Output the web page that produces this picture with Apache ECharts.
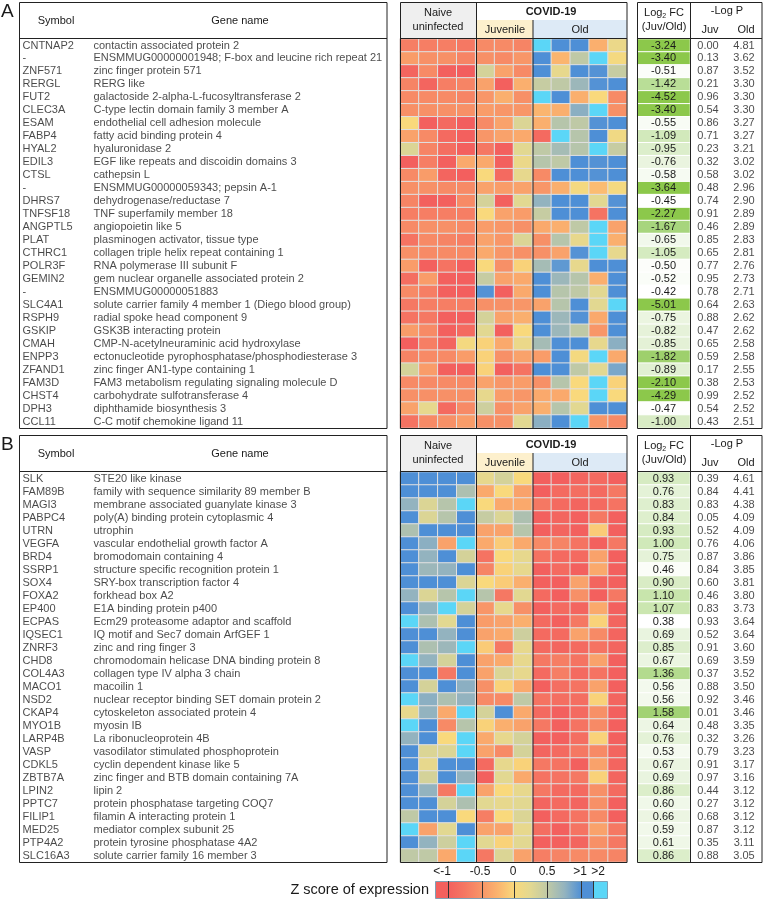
<!DOCTYPE html>
<html><head><meta charset="utf-8">
<script src="https://cdn.jsdelivr.net/npm/echarts@6/dist/echarts.min.js"></script>
<style>html,body{margin:0;padding:0;background:#fff}#c{width:765px;height:900px}</style>
</head><body><div id="c"></div>
<script>
// ---------- DATA ----------
const symbolsA = ['CNTNAP2','-','ZNF571','RERGL','FUT2','CLEC3A','ESAM','FABP4','HYAL2','EDIL3','CTSL','-','DHRS7','TNFSF18','ANGPTL5','PLAT','CTHRC1','POLR3F','GEMIN2','-','SLC4A1','RSPH9','GSKIP','CMAH','ENPP3','ZFAND1','FAM3D','CHST4','DPH3','CCL11'];
const genesA = ['contactin associated protein 2','ENSMMUG00000001948; F-box and leucine rich repeat 21','zinc finger protein 571','RERG like','galactoside 2-alpha-L-fucosyltransferase 2','C-type lectin domain family 3 member A','endothelial cell adhesion molecule','fatty acid binding protein 4','hyaluronidase 2','EGF like repeats and discoidin domains 3','cathepsin L','ENSMMUG00000059343; pepsin A-1','dehydrogenase/reductase 7','TNF superfamily member 18','angiopoietin like 5','plasminogen activator, tissue type','collagen triple helix repeat containing 1','RNA polymerase III subunit F','gem nuclear organelle associated protein 2','ENSMMUG00000051883','solute carrier family 4 member 1 (Diego blood group)','radial spoke head component 9','GSK3B interacting protein','CMP-N-acetylneuraminic acid hydroxylase','ectonucleotide pyrophosphatase/phosphodiesterase 3','zinc finger AN1-type containing 1','FAM3 metabolism regulating signaling molecule D','carbohydrate sulfotransferase 4','diphthamide biosynthesis 3','C-C motif chemokine ligand 11'];
const fcA = [-3.24,-3.40,-0.51,-1.42,-4.52,-3.40,-0.55,-1.09,-0.95,-0.76,-0.58,-3.64,-0.45,-2.27,-1.67,-0.65,-1.05,-0.50,-0.52,-0.42,-5.01,-0.75,-0.82,-0.85,-1.82,-0.89,-2.10,-4.29,-0.47,-1.00];
const pJuvA = [0.00,0.13,0.87,0.21,0.96,0.54,0.86,0.71,0.23,0.32,0.58,0.48,0.74,0.91,0.46,0.85,0.65,0.77,0.95,0.78,0.64,0.88,0.47,0.65,0.59,0.17,0.38,0.99,0.54,0.43];
const pOldA = [4.81,3.62,3.52,3.30,3.30,3.30,3.27,3.27,3.21,3.02,3.02,2.96,2.90,2.89,2.89,2.83,2.81,2.76,2.73,2.71,2.63,2.62,2.62,2.58,2.58,2.55,2.53,2.52,2.52,2.51];
// z scores: 4 naive, 3 juvenile, 5 old
const zA = [
[-0.7,-0.7,-0.7,-0.75,-0.6,-0.6,-0.65,2.3,1.3,1.3,-0.3,0.15],
[-0.45,-0.55,-0.55,-0.65,-0.55,-0.6,-0.5,1.3,-0.25,0.5,2.3,0.05],
[-0.95,-0.6,-1.0,-1.1,0.35,-0.4,-0.6,1.3,0.2,1.3,1.2,0.45],
[-0.65,-0.95,-0.7,-0.65,-0.4,-1.0,-0.3,0.45,0.5,0.7,1.2,1.3],
[-0.6,-0.6,-0.6,-0.65,-0.5,-0.3,-0.55,2.3,1.3,-0.3,0.0,-0.6],
[-0.55,-0.55,-0.55,-0.55,-0.45,-0.5,-0.5,-0.25,-0.3,0.8,2.3,-0.55],
[0.0,-1.0,-0.9,-1.1,-0.6,-0.4,0.3,-0.3,0.55,0.5,1.2,1.3],
[-0.4,-0.6,-0.9,-1.0,-0.5,-0.4,-0.35,-0.9,2.3,0.55,1.3,0.1],
[0.3,-0.65,-0.85,-1.0,-0.75,-1.0,0.25,0.5,0.65,0.55,2.3,0.45],
[-1.0,-0.7,-1.0,-0.35,-0.35,-1.0,0.15,0.55,0.5,1.3,1.2,1.3],
[-0.6,-0.45,-0.95,-1.05,0.0,-0.9,0.2,-0.6,1.3,1.3,1.2,1.25],
[-0.55,-0.55,-0.6,-0.6,-0.4,-0.45,-0.4,-0.5,-0.3,0.05,-0.2,0.05],
[-0.65,-1.0,-1.0,-0.6,0.35,-1.0,0.25,0.75,1.3,1.3,0.25,1.2],
[-0.7,-0.7,-0.7,-0.7,0.0,-0.4,-0.45,0.45,1.3,1.3,-0.8,1.3],
[-0.6,-0.55,-0.55,-0.6,-0.45,-0.5,-0.55,-0.35,-0.3,0.5,2.3,-0.4],
[-0.8,-0.6,-0.65,-0.7,-0.4,-0.5,0.3,-0.55,0.55,0.2,2.3,-0.3],
[-0.55,-0.6,-0.6,-0.6,-0.35,-0.5,-0.55,-0.55,-0.4,1.2,2.3,0.2],
[-0.45,-1.0,-0.8,-1.0,0.0,-0.55,-0.05,0.65,1.1,0.2,1.3,1.3],
[-0.85,-0.45,-1.0,-1.05,0.45,-0.4,-0.35,1.3,0.7,0.55,-0.3,1.3],
[-0.6,-0.7,-1.0,-1.05,1.2,-1.0,-0.35,1.3,0.55,0.5,0.25,1.3],
[-0.75,-0.7,-0.7,-0.7,-0.55,-0.55,-0.5,-0.4,0.55,1.25,0.25,2.3],
[-0.8,-0.75,-1.0,-1.05,0.35,-0.4,-0.3,1.3,0.7,1.2,-0.35,1.25],
[-0.45,-0.6,-1.0,-0.9,0.25,-1.0,0.0,1.3,0.7,0.5,-0.5,1.25],
[-1.05,-0.7,-0.95,0.05,-0.05,-0.35,0.15,0.65,1.25,1.3,0.2,0.8],
[-0.65,-0.6,-0.6,-0.45,-0.05,-0.55,-0.4,-0.45,1.3,0.05,2.3,-0.35],
[0.35,-0.45,-1.0,-1.0,-0.05,-1.0,-0.8,1.3,1.3,0.5,0.25,0.9],
[-0.6,-0.6,-0.6,-0.6,-0.4,-0.5,-0.45,-0.55,0.55,0.0,2.3,-0.05],
[-0.55,-0.55,-0.55,-0.55,0.2,-0.45,-0.5,-0.35,-0.35,0.0,2.3,0.0],
[-0.4,0.2,-0.9,-0.6,0.4,-0.55,-0.4,-0.3,0.55,0.25,1.3,1.25],
[-0.8,-0.6,-0.55,-0.45,-0.55,-0.55,0.25,0.8,1.3,2.3,-0.5,-0.6]
];

const symbolsB = ['SLK','FAM89B','MAGI3','PABPC4','UTRN','VEGFA','BRD4','SSRP1','SOX4','FOXA2','EP400','ECPAS','IQSEC1','ZNRF3','CHD8','COL4A3','MACO1','NSD2','CKAP4','MYO1B','LARP4B','VASP','CDKL5','ZBTB7A','LPIN2','PPTC7','FILIP1','MED25','PTP4A2','SLC16A3'];
const genesB = ['STE20 like kinase','family with sequence similarity 89 member B','membrane associated guanylate kinase 3','poly(A) binding protein cytoplasmic 4','utrophin','vascular endothelial growth factor A','bromodomain containing 4','structure specific recognition protein 1','SRY-box transcription factor 4','forkhead box A2','E1A binding protein p400','Ecm29 proteasome adaptor and scaffold','IQ motif and Sec7 domain ArfGEF 1','zinc and ring finger 3','chromodomain helicase DNA binding protein 8','collagen type IV alpha 3 chain','macoilin 1','nuclear receptor binding SET domain protein 2','cytoskeleton associated protein 4','myosin IB','La ribonucleoprotein 4B','vasodilator stimulated phosphoprotein','cyclin dependent kinase like 5','zinc finger and BTB domain containing 7A','lipin 2','protein phosphatase targeting COQ7','filamin A interacting protein 1','mediator complex subunit 25','protein tyrosine phosphatase 4A2','solute carrier family 16 member 3'];
const fcB = [0.93,0.76,0.83,0.84,0.93,1.00,0.75,0.46,0.90,1.10,1.07,0.38,0.69,0.85,0.67,1.36,0.56,0.56,1.58,0.64,0.76,0.53,0.67,0.69,0.86,0.60,0.66,0.59,0.61,0.86];
const pJuvB = [0.39,0.84,0.83,0.05,0.52,0.76,0.87,0.84,0.60,0.46,0.83,0.93,0.52,0.91,0.69,0.37,0.88,0.92,0.01,0.48,0.32,0.79,0.91,0.97,0.44,0.27,0.68,0.87,0.35,0.88];
const pOldB = [4.61,4.41,4.38,4.09,4.09,4.06,3.86,3.85,3.81,3.80,3.73,3.64,3.64,3.60,3.59,3.52,3.50,3.46,3.46,3.35,3.26,3.23,3.17,3.16,3.12,3.12,3.12,3.12,3.11,3.05];
const zB = [
[1.3,1.3,1.3,1.3,0.2,0.35,0.0,-1.0,-1.05,-0.95,-0.9,-1.0],
[1.3,1.3,1.3,0.6,-0.35,0.0,-0.4,-1.05,-0.9,-0.85,-0.9,-0.75],
[0.75,0.3,0.55,2.3,0.0,-0.35,-0.35,-0.75,-0.9,-0.95,-0.9,-0.8],
[1.3,0.3,0.55,1.3,0.45,0.3,0.6,-1.0,-0.95,-1.0,-0.75,-1.0],
[0.6,1.3,1.3,1.3,-0.4,-0.4,0.55,-1.0,-0.95,-1.0,-0.1,-1.0],
[1.3,0.8,-0.4,2.3,-0.35,-0.1,-0.35,-0.6,-0.65,-0.8,-1.0,-0.75],
[1.3,0.75,1.3,0.35,-0.8,0.0,0.2,-0.8,-0.9,-0.9,-0.4,-1.0],
[1.3,0.7,0.75,1.3,-0.65,-0.05,0.2,-1.0,-0.9,-1.0,-0.35,-1.0],
[1.3,1.3,1.3,0.3,0.0,-0.1,-0.3,-1.0,-1.05,-0.4,-0.95,-1.0],
[0.75,0.3,0.55,2.3,0.55,-0.75,0.25,-0.9,-1.05,-0.55,-1.0,-0.75],
[1.3,0.75,2.3,0.35,-0.5,0.2,-0.55,-1.0,-0.9,-0.95,-0.35,-1.0],
[2.3,0.6,0.25,1.3,-0.45,-0.4,-0.3,-0.9,-1.0,-0.75,-0.05,-0.95],
[1.3,1.3,0.75,1.3,-0.4,-0.35,0.4,-0.9,-0.9,-0.4,-0.6,-0.95],
[1.3,0.6,0.7,2.3,-0.1,-0.75,0.2,-0.9,-0.95,-0.9,-0.8,-0.95],
[2.3,0.75,0.35,1.3,-0.4,-0.35,0.2,-0.75,-0.7,-0.8,-0.4,-1.0],
[1.3,1.3,-0.75,1.3,-0.4,0.3,0.2,-0.9,-0.7,-0.9,-0.8,-1.0],
[1.3,0.35,1.3,0.8,-0.55,-0.05,-0.35,-1.0,-0.85,-0.8,-0.4,-1.0],
[2.3,0.8,0.6,0.75,-0.6,-0.6,0.5,-0.8,-0.85,-0.85,-0.05,-0.95],
[0.2,0.75,-0.35,2.3,0.35,1.3,-0.35,-0.9,-1.0,-0.9,-0.55,-1.0],
[2.3,1.3,-0.6,0.55,-0.05,-0.3,-0.4,-0.75,-1.0,-0.8,-0.6,-1.0],
[0.75,1.3,0.0,2.3,-0.35,0.2,0.35,-1.0,-1.0,-0.85,-0.05,-1.0],
[1.3,0.3,0.3,2.3,-0.4,-0.6,0.35,-0.95,-0.9,-0.75,-0.6,-0.95],
[1.3,0.2,1.3,1.3,-0.9,0.2,-0.05,-0.75,-0.8,-1.0,-0.4,-0.95],
[1.3,0.35,1.3,0.75,-1.0,0.25,-0.35,-0.8,-0.8,-0.75,-0.05,-0.95],
[1.3,0.75,-0.75,2.3,-0.4,0.0,0.2,-0.75,-0.9,-0.9,-0.55,-0.9],
[1.3,1.3,0.35,0.6,0.25,0.2,0.25,-0.95,-0.9,-0.95,-0.55,-1.0],
[0.5,1.3,1.3,0.0,-0.7,0.0,0.3,-1.0,-0.9,-0.8,-0.6,-1.0],
[2.3,-0.4,0.25,1.3,-0.4,-0.4,0.2,-0.85,-1.0,-0.8,-0.4,-0.75],
[1.3,0.75,0.4,2.3,0.25,-0.05,0.25,-1.0,-1.0,-0.95,-0.55,-0.75],
[0.5,0.5,-0.35,2.3,-0.75,0.3,-0.4,-0.7,-0.65,-0.6,-0.6,-0.65]
];

const heatCols = ['N1','N2','N3','N4','J1','J2','J3','O1','O2','O3','O4','O5'];
const legendTicks = ['<-1','-0.5','0','0.5','>1','>2'];

// ---------- LAYOUT / STYLE ----------
const FONT = '"Liberation Sans", Arial, sans-serif';
const TXT = '#1a1a1a';
const zColors = ['#f15a5f','#f15a5f','#f3605e','#f57863','#f89668','#fbb56f','#f9d97c','#e2d891','#bfc9a6','#93b3bf','#6a9fd0','#4e8fd6','#4e8fd6','#4e8fd6','#4e8fd6','#5bd6f7','#5bd6f7'];
const panels = [
  {label:'A', sym:symbolsA, gene:genesA, z:zA, fc:fcA, pj:pJuvA, po:pOldA, top:2, rowTop:39, rowH:389, fcMin:0.45, fcMax:2.1},
  {label:'B', sym:symbolsB, gene:genesB, z:zB, fc:fcB, pj:pJuvB, po:pOldB, top:435, rowTop:472, rowH:390, fcMin:0.4, fcMax:1.9}
];

const grid=[], xAxis=[], yAxis=[], series=[], visualMap=[], graphic=[];
const hidden = {axisLine:{show:false},axisTick:{show:false},axisLabel:{show:false},splitLine:{show:false}};
const heatSeriesIdx = [];

panels.forEach((p, k) => {
  const rows = p.sym.map((_, i) => i);
  const cols = [
    {left:20, width:71, x:{type:'value', min:0, max:1}},
    {left:91, width:296, x:{type:'value', min:0, max:1}},
    {left:400, width:227, x:{type:'category', data:heatCols}},
    {left:637, width:53, x:{type:'category', data:['FC']}},
    {left:690, width:72, x:{type:'category', data:['Juv','Old']}}
  ];
  const g0 = grid.length;
  cols.forEach(c => {
    grid.push({left:c.left, width:c.width, top:p.rowTop, height:p.rowH});
    xAxis.push(Object.assign({gridIndex:grid.length-1, show:false}, c.x, hidden));
    yAxis.push(Object.assign({gridIndex:grid.length-1, type:'category', data:rows, inverse:true, show:false}, hidden));
  });
  const lbl = {fontSize:11, fontFamily:FONT, color:TXT};
  series.push({type:'scatter', xAxisIndex:g0, yAxisIndex:g0, symbolSize:1, itemStyle:{color:'rgba(0,0,0,0)'}, silent:true,
    data: rows.map(i=>[0,i]),
    label:Object.assign({show:true, position:'right', distance:2, formatter:q=>p.sym[q.dataIndex]}, lbl)});
  series.push({type:'scatter', xAxisIndex:g0+1, yAxisIndex:g0+1, symbolSize:1, itemStyle:{color:'rgba(0,0,0,0)'}, silent:true,
    data: rows.map(i=>[0,i]),
    label:Object.assign({show:true, position:'right', distance:2, formatter:q=>p.gene[q.dataIndex]}, lbl)});
  heatSeriesIdx.push(series.length);
  series.push({type:'heatmap', xAxisIndex:g0+2, yAxisIndex:g0+2, silent:true,
    data: p.z.flatMap((r,i)=>r.map((v,j)=>[j,i,v])),
    itemStyle:{borderColor:'#e0e0e0', borderWidth:1}});
  visualMap.push({type:'continuous', show:false, min:p.fcMin, max:p.fcMax, dimension:2, seriesIndex:series.length,
    inRange:{color:['#ffffff','#e3f1d5','#c4e3a6','#a6d47b','#8cc84b']}});
  series.push({type:'heatmap', xAxisIndex:g0+3, yAxisIndex:g0+3, silent:true,
    data: p.fc.map((v,i)=>[0,i,Math.min(p.fcMax,Math.max(p.fcMin,Math.abs(v))),v]),
    itemStyle:{borderColor:'#ffffff', borderWidth:1},
    label:Object.assign({show:true, formatter:q=>q.value[3].toFixed(2)}, lbl)});
  series.push({type:'scatter', xAxisIndex:g0+4, yAxisIndex:g0+4, symbolSize:1, itemStyle:{color:'rgba(0,0,0,0)'}, silent:true,
    data: p.pj.map((v,i)=>[0,i,v]).concat(p.po.map((v,i)=>[1,i,v])),
    label:Object.assign({show:true, position:'inside', formatter:q=>q.value[2].toFixed(2)}, lbl)});

  const t = p.top, rt = p.rowTop, bot = p.rowTop + p.rowH;
  const line = (x1,y1,x2,y2,c) => graphic.push({type:'line', z:100, silent:true, shape:{x1,y1,x2,y2}, style:{stroke:c||'#222', lineWidth:1}});
  const rect = (x,y,w,h,fill,z) => graphic.push({type:'rect', z:z||0, silent:true, shape:{x,y,width:w,height:h}, style:{fill:fill||'none', stroke:fill?null:'#222', lineWidth:1}});
  const text = (x,y,s,opt) => graphic.push({type:'text', z:101, silent:true, style:Object.assign({x,y,text:s,fontSize:11,fontFamily:FONT,fill:TXT,align:'center',verticalAlign:'middle'},opt||{})});
  text(1, t+10, p.label, {fontSize:19, align:'left'});
  rect(19.5, t+0.5, 367.5, bot-t, null, 100);
  line(19.5, rt-0.5, 387, rt-0.5);
  text(56, (t+rt)/2, 'Symbol');
  text(240, (t+rt)/2, 'Gene name');
  rect(400, t, 76, rt-t, '#efefef');
  rect(476, t+18, 57, rt-t-18, '#fdf0cd');
  rect(533, t+18, 94, rt-t-18, '#ddeaf6');
  rect(400.5, t+0.5, 226.5, bot-t, null, 100);
  line(476.5, t, 476.5, bot);
  line(533, t+18, 533, bot);
  line(400, rt-0.5, 627, rt-0.5);
  text(438, t+18, 'Naive\nuninfected', {lineHeight:14});
  text(551, t+10, 'COVID-19', {fontWeight:'bold'});
  text(505, t+28, 'Juvenile');
  text(580, t+28, 'Old');
  rect(637.5, t+0.5, 124.5, bot-t, null, 100);
  line(690.5, t, 690.5, bot);
  line(637, rt-0.5, 762, rt-0.5);
  text(664, t+11, '{a|Log}{s|2}{a| FC}', {rich:{a:{fontSize:11,fontFamily:FONT,fill:TXT}, s:{fontSize:7,fontFamily:FONT,fill:TXT,padding:[6,0,0,0]}}});
  text(664, t+25, '(Juv/Old)');
  text(727, t+9, '-Log P');
  text(710, t+28, 'Juv');
  text(746, t+28, 'Old');
});

visualMap.push({type:'continuous', show:false, min:-1.5, max:2.5, dimension:2, seriesIndex:heatSeriesIdx, inRange:{color:zColors}});

const bx0 = 435, bx1 = 607, by = 881, bh = 17;
const tickX = [448, 482, 514, 547, 581, 593];
const tickLblX = [442, 480, 513, 547, 580, 598];
const f = x => (x - bx0) / (bx1 - bx0);
graphic.push({type:'rect', z:100, silent:true, shape:{x:bx0+0.5, y:by+0.5, width:bx1-bx0, height:bh},
  style:{stroke:'#7f9fb5', lineWidth:1, fill:{type:'linear', x:0, y:0, x2:1, y2:0, colorStops:[
    {offset:0, color:zColors[2]},{offset:f(448), color:zColors[2]},{offset:f(465), color:zColors[3]},
    {offset:f(482), color:zColors[4]},{offset:f(498), color:zColors[5]},{offset:f(514), color:zColors[6]},
    {offset:f(530), color:zColors[7]},{offset:f(547), color:zColors[8]},{offset:f(564), color:zColors[9]},
    {offset:f(581), color:zColors[11]},{offset:f(593), color:zColors[11]},{offset:f(593.5), color:zColors[15]},{offset:1, color:zColors[15]}]}}});
tickX.forEach(x => graphic.push({type:'line', z:101, silent:true, shape:{x1:x+0.5,y1:by,x2:x+0.5,y2:by+bh}, style:{stroke:'#333', lineWidth:1}}));
legendTicks.forEach((s,i) => graphic.push({type:'text', z:101, silent:true, style:{x:tickLblX[i], y:872, text:s, fontSize:12, fontFamily:FONT, fill:TXT, align:'center', verticalAlign:'middle'}}));
graphic.push({type:'text', z:101, silent:true, style:{x:429, y:890, text:'Z score of expression', fontSize:14.5, fontFamily:FONT, fill:TXT, align:'right', verticalAlign:'middle'}});

const chart = echarts.init(document.getElementById('c'), null, {renderer:'canvas'});
chart.setOption({animation:false, backgroundColor:'#fff', grid, xAxis, yAxis, visualMap, series, graphic});
</script>
</body></html>
